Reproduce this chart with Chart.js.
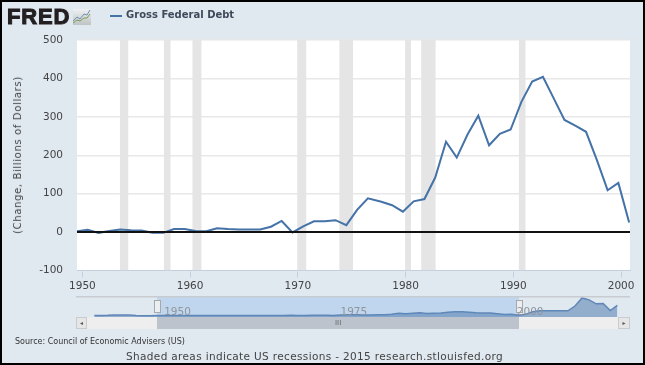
<!DOCTYPE html>
<html>
<head>
<meta charset="utf-8">
<title>Gross Federal Debt</title>
<script src="https://cdn.jsdelivr.net/npm/chart.js@4"></script>
<style>
    html, body { margin: 0; padding: 0; }
    body { width: 645px; height: 365px; overflow: hidden; background: #000; font-family: "DejaVu Sans", sans-serif; }
    #page { position: absolute; left: 2px; top: 2px; width: 641px; height: 361px; background: #e0e8f0; z-index: -1; }
    canvas { position: absolute; left: 0; top: 0; }
    .abs { position: absolute; white-space: nowrap; }
    #logo { left: 7px; top: 4px; font: bold 22px/26px "Liberation Sans", sans-serif; color: #231f20; -webkit-text-stroke: 1px #231f20; letter-spacing: 0.8px; }
    #legend-line { left: 110px; top: 15px; width: 12px; height: 2px; background: #4572a7; }
    #legend-text { left: 126px; top: 8px; font: bold 10px/14px "DejaVu Sans", sans-serif; color: #3e4a5a; }
    #y-title { left: 17.5px; top: 155px; transform: translate(-50%, -50%) rotate(-90deg); font: 10px/12px "DejaVu Sans", sans-serif; letter-spacing: 0.65px; color: #444; }
    #source { left: 15px; top: 336px; font: 8px/12px "DejaVu Sans", sans-serif; color: #333; }
    #shaded { left: 126px; top: 350px; font: 10.5px/13px "DejaVu Sans", sans-serif; letter-spacing: 0.35px; color: #444; }
    .nav-label { top: 305px; font: 10.5px/13px "DejaVu Sans", sans-serif; color: #8f959c; }
    .bar { position: absolute; top: 317px; height: 12px; }
    .btn { background: #e6e6e6; border: 1px solid #c8ccd0; box-sizing: border-box; color: #555; font-size: 6px; line-height: 10px; text-align: center; }
    .handle { position: absolute; top: 300px; width: 7px; height: 13px; background: #eceff2; border: 1px solid #a8a8a8; box-sizing: border-box; }
</style>
</head>
<body>
<div id="page"></div>
<canvas id="chartMain" width="645" height="365"></canvas>
<canvas id="chartNav" width="645" height="365"></canvas>
<script>
const debtYears = [1949.5, 1950.5, 1951.5, 1952.5, 1953.5, 1954.5, 1955.5, 1956.5, 1957.5, 1958.5,
    1959.5, 1960.5, 1961.5, 1962.5, 1963.5, 1964.5, 1965.5, 1966.5, 1967.5, 1968.5,
    1969.5, 1970.5, 1971.5, 1972.5, 1973.5, 1974.5, 1975.5, 1976.5, 1977.75, 1978.75,
    1979.75, 1980.75, 1981.75, 1982.75, 1983.75, 1984.75, 1985.75, 1986.75, 1987.75, 1988.75,
    1989.75, 1990.75, 1991.75, 1992.75, 1993.75, 1994.75, 1995.75, 1996.75, 1997.75, 1998.75,
    1999.75, 2000.75];
const debtChange = [2, 6, -2, 3, 7, 5, 4, -2, -2, 8,
    8, 3, 2, 10, 8, 7, 7, 7, 14, 29,
    -1, 15, 28, 28, 31, 18, 58, 88, 79, 70,
    53, 80, 86, 142, 235, 194, 254, 303, 226, 256,
    267, 339, 392, 404, 348, 292, 277, 261, 188, 109,
    128, 25];

const recessionStart = [1953.47, 1957.55, 1960.2, 1969.93, 1973.84, 1979.95, 1981.44, 1990.5];
const recessionEnd = [1954.28, 1958.2, 1961.07, 1970.8, 1975.14, 1980.5, 1982.8, 1991.15];

// navigator shows the whole series, before and after the zoomed range
const navYearsBefore = [1940.6, 1941.5, 1942.5, 1943.5, 1944.5, 1945.5, 1946.5, 1947.5, 1948.5];
const navChangeBefore = [3, 6, 24, 60, 62, 55, 10, -11, -6];
const navYearsAfter = [2001.75, 2002.75, 2003.75, 2004.75, 2005.75, 2006.75, 2007.75, 2008.75, 2009.75, 2010.75, 2011.75, 2012.75, 2013.75, 2014.75];
const navChangeAfter = [130, 400, 500, 500, 500, 500, 500, 1000, 1850, 1650, 1230, 1260, 520, 1080];

const xTicks = [1950, 1960, 1970, 1980, 1990, 2000];
const yTicks = [-100, 0, 100, 200, 300, 400, 500];
const navLabels = [1950, 1975, 2000];

const xMin = 1949.5, xMax = 2000.83;
const navMin = 1938, navMax = 2016.55;
const FONT = '"DejaVu Sans", sans-serif';

function xy(xs, ys) {
    return xs.map((x, i) => ({ x: x, y: ys[i] }));
}

const whitePlot = {
    id: 'whitePlot',
    beforeDraw(chart) {
        const a = chart.chartArea;
        chart.ctx.fillStyle = '#fff';
        chart.ctx.fillRect(a.left, a.top, a.right - a.left, a.bottom - a.top);
    }
};

const recessionSets = recessionStart.map((s, i) => ({
    data: [{ x: s, y: 500 }, { x: recessionEnd[i], y: 500 }],
    fill: 'start',
    backgroundColor: '#e5e5e5',
    borderWidth: 0,
    pointRadius: 0,
    order: 3
}));

new Chart(document.getElementById('chartMain'), {
    type: 'line',
    data: {
        datasets: [
            { data: [{ x: xMin, y: 0 }, { x: xMax, y: 0 }], borderColor: '#111', borderWidth: 2, pointRadius: 0, order: 0 },
            { label: 'Gross Federal Debt', data: xy(debtYears, debtChange), borderColor: '#4572a7', borderWidth: 2, pointRadius: 0, tension: 0, order: 1 }
        ].concat(recessionSets)
    },
    options: {
        responsive: false,
        animation: false,
        layout: { padding: { left: 0, top: 40, right: 15, bottom: 64.5 } },
        plugins: { legend: { display: false }, tooltip: { enabled: false } },
        scales: {
            x: {
                type: 'linear',
                min: xMin,
                max: xMax,
                afterFit: s => { s.height = 30; },
                afterBuildTicks: s => { s.ticks = xTicks.map(v => ({ value: v })); },
                grid: { drawOnChartArea: false, tickLength: 7, tickColor: '#c0d0e0' },
                border: { color: '#c0d0e0' },
                ticks: { color: '#444', padding: 2, maxRotation: 0, autoSkip: false, font: { family: FONT, size: 10.5 }, callback: v => String(v) }
            },
            y: {
                min: -100,
                max: 500,
                afterFit: s => { s.width = 77; },
                afterBuildTicks: s => { s.ticks = yTicks.map(v => ({ value: v })); },
                grid: { color: '#e8e8e8', lineWidth: 1.5, drawTicks: false },
                border: { display: false },
                ticks: { color: '#444', padding: 14, font: { family: FONT, size: 10.5 } }
            }
        }
    },
    plugins: [whitePlot]
});

const navChart = new Chart(document.getElementById('chartNav'), {
    type: 'line',
    data: {
        datasets: [
            {
                data: xy(navYearsBefore.concat(debtYears, navYearsAfter), navChangeBefore.concat(debtChange, navChangeAfter)),
                borderColor: '#5f87b8',
                backgroundColor: 'rgba(69,114,167,0.5)',
                fill: 'start',
                borderWidth: 1.5,
                pointRadius: 0,
                order: 0
            },
            {
                data: [{ x: xMin, y: 1950 }, { x: xMax, y: 1950 }],
                backgroundColor: '#c0d6ee',
                fill: 'start',
                borderWidth: 0,
                pointRadius: 0,
                order: 1
            }
        ]
    },
    options: {
        responsive: false,
        animation: false,
        layout: { padding: { left: 76, top: 297, right: 15, bottom: 48 } },
        plugins: { legend: { display: false }, tooltip: { enabled: false } },
        scales: {
            x: {
                type: 'linear', min: navMin, max: navMax,
                afterFit: s => { s.height = 0; },
                grid: { display: false }, border: { display: false }, ticks: { display: false }
            },
            y: {
                min: -150, max: 1950,
                afterFit: s => { s.width = 0; },
                grid: { display: false }, border: { display: false }, ticks: { display: false }
            }
        }
    },
    plugins: [{
        id: 'navTop',
        afterDraw(chart) {
            const a = chart.chartArea;
            chart.ctx.fillStyle = '#c8ccd0';
            chart.ctx.fillRect(a.left, a.top - 1, a.right - a.left, 1.5);
        }
    }]
});

// page text and the scrollbar, on top of both charts
const page = document.createElement('div');
page.innerHTML = `
    <div class="abs" id="logo">FRED</div>
    <svg class="abs" style="left:73px;top:9px" width="18" height="16">
        <defs><linearGradient id="lg" x1="0" y1="0" x2="0" y2="1"><stop offset="0" stop-color="#eef1f3"/><stop offset="1" stop-color="#bfc3c3"/></linearGradient></defs>
        <rect width="18" height="16" fill="url(#lg)"/>
        <polyline points="0,12 4,8 7,10 11,5 14,6 17,1" fill="none" stroke="#6d8fb5" stroke-width="1"/>
        <polyline points="0,14 4,11 7,12 11,9 14,9 17,5" fill="none" stroke="#7f9b5a" stroke-width="1"/>
    </svg>
    <div class="abs" id="legend-line"></div>
    <div class="abs" id="legend-text">Gross Federal Debt</div>
    <div class="abs" id="y-title">(Change, Billions of Dollars)</div>
    <div class="abs" id="source">Source: Council of Economic Advisers (US)</div>
    <div class="abs" id="shaded">Shaded areas indicate US recessions - 2015 research.stlouisfed.org</div>`;
document.body.appendChild(page);

const nx = navChart.scales.x;
const left = nx.getPixelForValue(xMin), right = nx.getPixelForValue(xMax);
function addBar(x0, x1, cls, color, html) {
    const d = document.createElement('div');
    d.className = 'bar ' + cls;
    d.style.left = x0 + 'px';
    d.style.width = (x1 - x0) + 'px';
    if (color) d.style.background = color;
    d.innerHTML = html || '';
    document.body.appendChild(d);
}
addBar(87, left, '', '#eeeeee');
addBar(left, right, '', '#bcc3cd', '<div style="font-size:7px;line-height:12px;text-align:center;color:#666">III</div>');
addBar(right, 618, '', '#eeeeee');
addBar(76, 87, 'btn', null, '◂');
addBar(618, 630, 'btn', null, '▸');
[left, right].forEach(x => {
    const h = document.createElement('div');
    h.className = 'handle';
    h.style.left = (x - 3.5) + 'px';
    document.body.appendChild(h);
});
navLabels.forEach(y => {
    const s = document.createElement('div');
    s.className = 'abs nav-label';
    s.textContent = y;
    s.style.left = (nx.getPixelForValue(y) + 3.5) + 'px';
    document.body.appendChild(s);
});
</script>
</body>
</html>
